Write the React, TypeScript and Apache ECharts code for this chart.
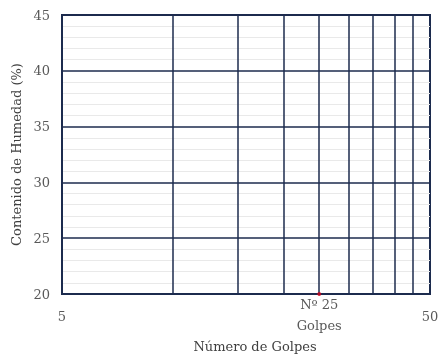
import React, { useEffect, useRef } from "react";
import * as echarts from "echarts";

const xMin = 5;
const xMax = 50;
const yMin = 20;
const yMax = 45;
const yStep = 5;
const verticalLines = [10, 15, 20, 25, 30, 35, 40, 45];
const xLabelValues = [5, 25, 50];
const markerPoint = [[25, 20]];

const NAVY = "#1c2b4e";
const FONT = "'DejaVu Serif', 'Liberation Serif', serif";

export default function App() {
  const ref = useRef<HTMLDivElement>(null);
  useEffect(() => {
    if (!ref.current) return;
    const chart = echarts.init(ref.current, null, { renderer: "svg" });
    chart.setOption({
      animation: false,
      textStyle: { fontFamily: FONT },
      grid: {
        left: 62,
        right: 12,
        top: 15,
        bottom: 64,
        show: true,
        borderColor: NAVY,
        borderWidth: 2,
      },
      xAxis: {
        type: "log",
        logBase: 10,
        min: xMin,
        max: xMax,
        name: "Número de Golpes",
        nameLocation: "middle",
        nameGap: 46,
        nameTextStyle: { color: "#404040", fontSize: 13, fontFamily: FONT, padding: [0, 0, 0, 18] },
        axisLine: { show: true, lineStyle: { color: NAVY, width: 2 } },
        axisTick: { show: false },
        splitLine: { show: false },
        axisLabel: {
          customValues: xLabelValues,
          showMinLabel: true,
          showMaxLabel: true,
          color: "#595959",
          fontSize: 13,
          fontFamily: FONT,
          margin: 0,
          formatter: (v: number) => {
            const r = Math.round(v);
            if (r === 25) return "{b|Nº 25}\n{b|Golpes}";
            return "{a|" + r + "}";
          },
          rich: {
            a: { color: "#595959", fontSize: 13, fontFamily: FONT, padding: [16, 0, 0, 0] },
            b: { color: "#595959", fontSize: 13, fontFamily: FONT, lineHeight: 21 },
          },
        },
      },
      yAxis: {
        type: "value",
        min: yMin,
        max: yMax,
        interval: yStep,
        name: "Contenido de Humedad (%)",
        nameLocation: "middle",
        nameGap: 34,
        nameTextStyle: { color: "#404040", fontSize: 13, fontFamily: FONT },
        axisLine: { show: true, lineStyle: { color: NAVY, width: 2 } },
        axisTick: { show: false },
        axisLabel: { color: "#595959", fontSize: 13, fontFamily: FONT, margin: 12 },
        splitLine: { show: true, lineStyle: { color: NAVY, width: 1.5 } },
        minorTick: { show: false, splitNumber: 5 },
        minorSplitLine: { show: true, lineStyle: { color: "#e9e9e9", width: 1 } },
      },
      series: [
        {
          type: "scatter",
          data: markerPoint,
          symbolSize: 4,
          itemStyle: { color: "#d0021b" },
          z: 10,
          markLine: {
            silent: true,
            symbol: "none",
            label: { show: false },
            lineStyle: { color: NAVY, width: 1.5, type: "solid" },
            data: verticalLines.map((v) => ({ xAxis: v })),
          },
        },
      ],
    });
    return () => chart.dispose();
  }, []);
  return (
    <div
      ref={ref}
      style={{ position: "fixed", left: 0, top: 0, width: 442, height: 358 }}
    />
  );
}
